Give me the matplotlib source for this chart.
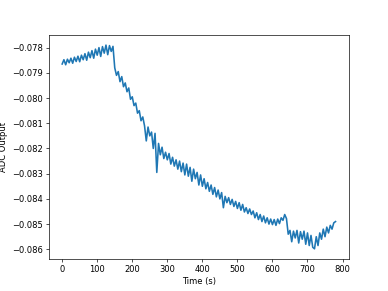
import numpy as np
import matplotlib
matplotlib.use("Agg")
import matplotlib.pyplot as plt

# Temps d'échantillonnage (s)
time_s = np.arange(0, 785, 5)

# Sortie ADC
adc_start = [
    -0.07865, -0.07848, -0.07868, -0.07846, -0.07860, -0.07842, -0.07862, -0.07838,
    -0.07855, -0.07834, -0.07856, -0.07830, -0.07848, -0.07824, -0.07850, -0.07818,
    -0.07840, -0.07812, -0.07842, -0.07806, -0.07830, -0.07800, -0.07835, -0.07796,
    -0.07822, -0.07790, -0.07828, -0.07792, -0.07815, -0.07795,
]
adc_drop = [
    -0.07880, -0.07910, -0.07895, -0.07935, -0.07915, -0.07955, -0.07940, -0.07975,
    -0.07960, -0.08005, -0.07995, -0.08030, -0.08020, -0.08060, -0.08050, -0.08090,
    -0.08075, -0.08110, -0.08170, -0.08115, -0.08150, -0.08135, -0.08200, -0.08140,
    -0.08295, -0.08180, -0.08225, -0.08195, -0.08240, -0.08215,
]
adc_slope = [
    -0.08245, -0.08220, -0.08262, -0.08235, -0.08270, -0.08245, -0.08282, -0.08250,
    -0.08292, -0.08258, -0.08305, -0.08262, -0.08310, -0.08275, -0.08330, -0.08282,
    -0.08320, -0.08295, -0.08345, -0.08305, -0.08350, -0.08320, -0.08360, -0.08335,
    -0.08370, -0.08345, -0.08382, -0.08355, -0.08392, -0.08365, -0.08400, -0.08375,
    -0.08435, -0.08390, -0.08415, -0.08395, -0.08422, -0.08402, -0.08430, -0.08410,
    -0.08438, -0.08415, -0.08445, -0.08422, -0.08452, -0.08435, -0.08458, -0.08440,
    -0.08462, -0.08448, -0.08475, -0.08455, -0.08482, -0.08462, -0.08490, -0.08468,
    -0.08495, -0.08475, -0.08500, -0.08480, -0.08502, -0.08482, -0.08505, -0.08480,
    -0.08498, -0.08475, -0.08485, -0.08462, -0.08478,
]
adc_end = [
    -0.08540, -0.08525, -0.08570, -0.08528, -0.08555, -0.08525, -0.08575, -0.08530,
    -0.08560, -0.08528, -0.08580, -0.08535, -0.08585, -0.08545, -0.08592, -0.08598,
    -0.08550, -0.08585, -0.08535, -0.08560, -0.08520, -0.08550, -0.08512, -0.08535,
    -0.08505, -0.08520, -0.08495, -0.08490,
]
adc_output = np.array(adc_start + adc_drop + adc_slope + adc_end)

plt.figure(figsize=(6.4, 4.8), dpi=388 / 6.4)
plt.plot(time_s, adc_output, linewidth=1.9)
plt.xlabel("Time (s)")
plt.ylabel("ADC Output")
plt.savefig("out.png")
